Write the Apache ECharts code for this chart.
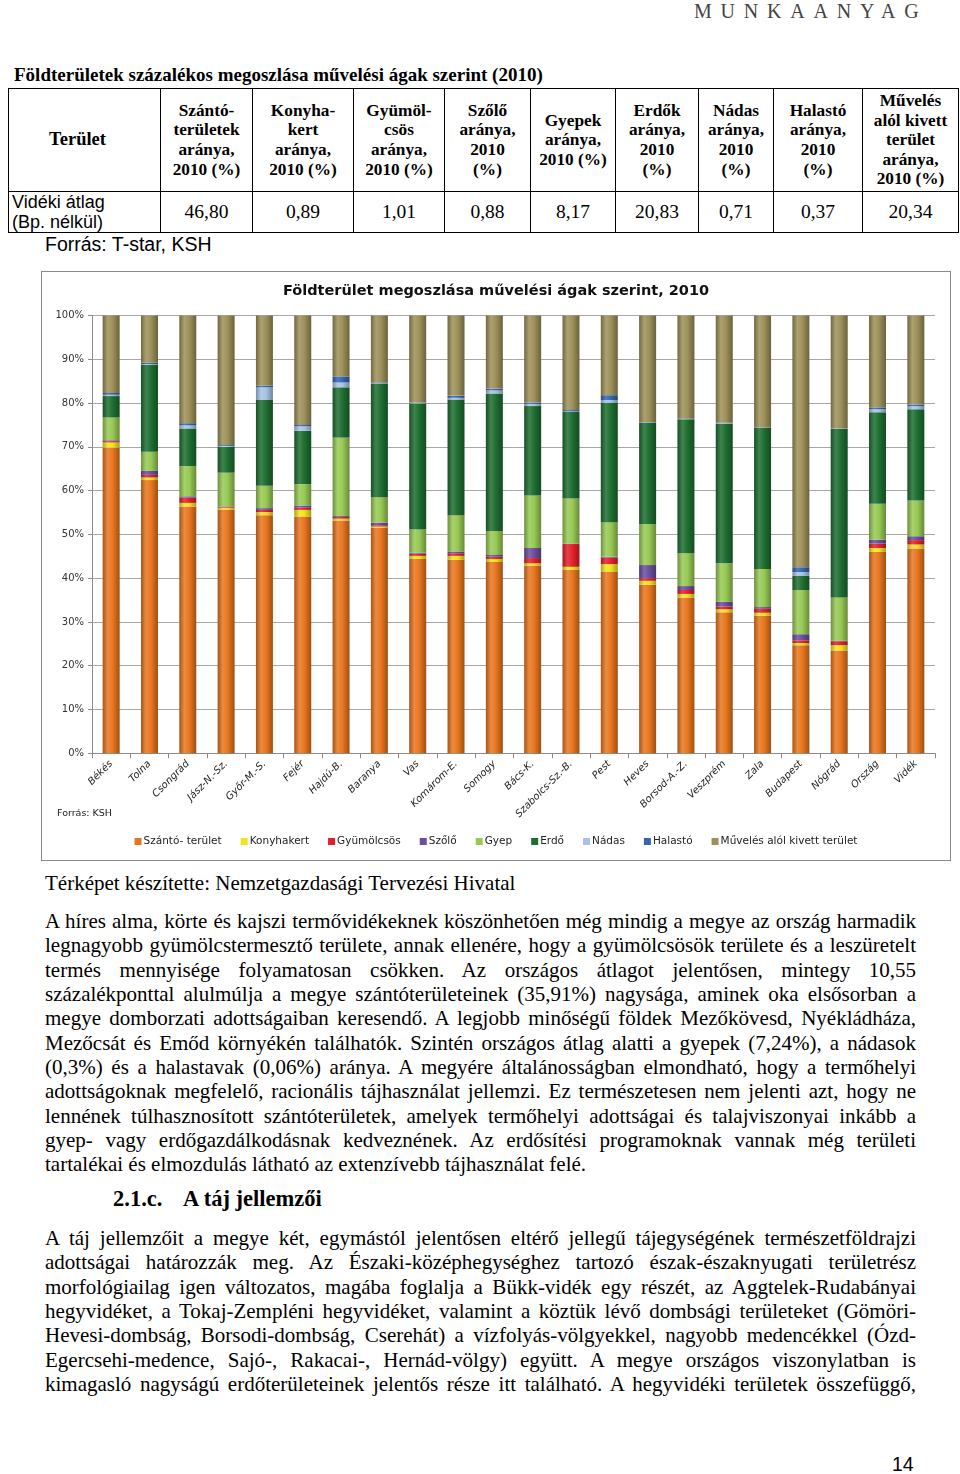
<!DOCTYPE html>
<html><head><meta charset="utf-8">
<script src="https://cdn.jsdelivr.net/npm/echarts@6/dist/echarts.min.js"></script>
<style>
html,body{margin:0;padding:0;background:#fff;}
body{width:960px;height:1474px;position:relative;overflow:hidden;font-family:'Liberation Serif','Times New Roman',serif;color:#000;}
.abs{position:absolute;white-space:nowrap;}
#hdr{left:694px;top:0px;font-size:20px;letter-spacing:8.8px;color:#444;}
#ttitle{left:14px;top:64px;font-size:19px;font-weight:bold;}
table{position:absolute;left:8px;top:88px;border-collapse:collapse;table-layout:fixed;}
td{border:1.5px solid #000;text-align:center;vertical-align:middle;padding:0;}
thead td{font-weight:bold;font-size:17.3px;line-height:19.6px;height:102px;}
tbody td{font-size:19.5px;height:40px;}
td.first{text-align:left;font-family:'Liberation Sans',Arial,sans-serif;font-size:18px;padding-left:3px;line-height:20px;}
#src1{left:45px;top:233px;font-family:'Liberation Sans',Arial,sans-serif;font-size:19.5px;}
#chart{left:41px;top:271px;width:908px;height:588px;border:1px solid #8a8a8a;}
#terk{left:45px;top:871px;font-size:21px;}
.para{position:absolute;left:45px;width:871px;font-size:21px;line-height:24.35px;}
.para div{text-align:justify;text-align-last:justify;white-space:nowrap;}
.para div.last{text-align-last:left;}
#h2a{left:113px;top:1186px;font-size:22.5px;font-weight:bold;}
#h2b{left:183px;top:1186px;font-size:22.5px;font-weight:bold;}
#pg{left:892px;top:1453px;font-family:'Liberation Sans',Arial,sans-serif;font-size:19.5px;}
</style></head><body>
<div id="hdr" class="abs">MUNKAANYAG</div>
<div id="ttitle" class="abs">Földterületek százalékos megoszlása művelési ágak szerint (2010)</div>
<table>
<colgroup><col style="width:152px"><col style="width:92px"><col style="width:101px"><col style="width:91px"><col style="width:86px"><col style="width:85px"><col style="width:83px"><col style="width:75px"><col style="width:89px"><col style="width:96px"></colgroup>
<thead><tr>
<td style="font-size:18.5px;padding-right:14px">Terület</td>
<td>Szántó-<br>területek<br>aránya,<br>2010 (%)</td>
<td>Konyha-<br>kert<br>aránya,<br>2010 (%)</td>
<td>Gyümöl-<br>csös<br>aránya,<br>2010 (%)</td>
<td>Szőlő<br>aránya,<br>2010<br>(%)</td>
<td>Gyepek<br>aránya,<br>2010 (%)</td>
<td>Erdők<br>aránya,<br>2010<br>(%)</td>
<td>Nádas<br>aránya,<br>2010<br>(%)</td>
<td>Halastó<br>aránya,<br>2010<br>(%)</td>
<td>Művelés<br>alól kivett<br>terület<br>aránya,<br>2010 (%)</td>
</tr></thead>
<tbody><tr>
<td class="first">Vidéki átlag<br>(Bp. nélkül)</td>
<td>46,80</td><td>0,89</td><td>1,01</td><td>0,88</td><td>8,17</td><td>20,83</td><td>0,71</td><td>0,37</td><td>20,34</td>
</tr></tbody>
</table>
<div id="src1" class="abs">Forrás: T-star, KSH</div>
<div id="chart" class="abs"></div>
<div id="terk" class="abs">Térképet készítette: Nemzetgazdasági Tervezési Hivatal</div>
<div class="para" style="top:909px">
<div>A híres alma, körte és kajszi termővidékeknek köszönhetően még mindig a megye az ország harmadik</div>
<div>legnagyobb gyümölcstermesztő területe, annak ellenére, hogy a gyümölcsösök területe és a leszüretelt</div>
<div>termés mennyisége folyamatosan csökken. Az országos átlagot jelentősen, mintegy 10,55</div>
<div>százalékponttal alulmúlja a megye szántóterületeinek (35,91%) nagysága, aminek oka elsősorban a</div>
<div>megye domborzati adottságaiban keresendő. A legjobb minőségű földek Mezőkövesd, Nyékládháza,</div>
<div>Mezőcsát és Emőd környékén találhatók. Szintén országos átlag alatti a gyepek (7,24%), a nádasok</div>
<div>(0,3%) és a halastavak (0,06%) aránya. A megyére általánosságban elmondható, hogy a termőhelyi</div>
<div>adottságoknak megfelelő, racionális tájhasználat jellemzi. Ez természetesen nem jelenti azt, hogy ne</div>
<div>lennének túlhasznosított szántóterületek, amelyek termőhelyi adottságai és talajviszonyai inkább a</div>
<div>gyep- vagy erdőgazdálkodásnak kedveznének. Az erdősítési programoknak vannak még területi</div>
<div class="last">tartalékai és elmozdulás látható az extenzívebb tájhasználat felé.</div>
</div>
<div id="h2a" class="abs">2.1.c.</div>
<div id="h2b" class="abs">A táj jellemzői</div>
<div class="para" style="top:1226px">
<div>A táj jellemzőit a megye két, egymástól jelentősen eltérő jellegű tájegységének természetföldrajzi</div>
<div>adottságai határozzák meg. Az Északi-középhegységhez tartozó észak-északnyugati területrész</div>
<div>morfológiailag igen változatos, magába foglalja a Bükk-vidék egy részét, az Aggtelek-Rudabányai</div>
<div>hegyvidéket, a Tokaj-Zempléni hegyvidéket, valamint a köztük lévő dombsági területeket (Gömöri-</div>
<div>Hevesi-dombság, Borsodi-dombság, Cserehát) a vízfolyás-völgyekkel, nagyobb medencékkel (Ózd-</div>
<div>Egercsehi-medence, Sajó-, Rakacai-, Hernád-völgy) együtt. A megye országos viszonylatban is</div>
<div>kimagasló nagyságú erdőterületeinek jelentős része itt található. A hegyvidéki területek összefüggő,</div>
</div>
<div id="pg" class="abs">14</div>
<script>
// ---- data ----
const categories = ['Békés','Tolna','Csongrád','Jász-N.-Sz.','Győr-M.-S.','Fejér','Hajdú-B.','Baranya','Vas','Komárom-E.','Somogy','Bács-K.','Szabolcs-Sz.-B.','Pest','Heves','Borsod-A.-Z.','Veszprém','Zala','Budapest','Nógrád','Ország','Vidék'];
const seriesNames = ['Szántó- terület','Konyhakert','Gyümölcsös','Szőlő','Gyep','Erdő','Nádas','Halastó','Művelés alól kivett terület'];
const szanto     = [69.8,62.4,56.4,55.7,54.4,54.1,53.2,51.5,44.4,44.2,43.7,42.9,41.9,41.5,38.5,35.6,32.2,31.4,24.7,23.5,46.0,46.80];
const konyhakert = [1.2,0.6,0.8,0.4,0.7,1.5,0.4,0.3,0.7,0.9,0.7,0.5,0.7,1.7,0.9,0.8,0.7,0.7,0.5,1.2,0.9,0.89];
const gyumolcsos = [0.3,0.6,1.2,0.2,0.5,0.5,0.4,0.3,0.5,0.6,0.5,1.2,5.2,1.5,0.6,0.9,0.6,0.9,0.6,0.9,1.0,1.01];
const szolo      = [0.2,0.9,0.3,0.1,0.4,0.5,0.2,0.6,0.2,0.4,0.4,2.3,0.1,0.2,3.0,0.9,1.1,0.4,1.4,0.1,0.9,0.88];
const gyep       = [5.2,4.4,6.9,7.7,5.1,4.9,17.9,5.8,5.3,8.3,5.5,12.0,10.3,7.9,9.4,7.5,8.8,8.7,10.1,9.9,8.2,8.17];
const erdo       = [4.9,19.8,8.6,5.9,19.6,12.2,11.5,25.9,28.8,26.4,31.4,20.4,19.8,27.3,23.1,30.6,31.9,32.3,3.3,38.6,20.9,20.83];
const nadas      = [0.3,0.2,0.7,0.2,2.9,1.0,1.1,0.1,0.1,0.4,0.7,0.5,0.1,0.6,0.1,0.1,0.1,0.1,0.8,0.1,0.7,0.71];
const halasto    = [0.4,0.3,0.5,0.2,0.4,0.3,1.4,0.2,0.1,0.5,0.4,0.3,0.3,1.1,0.1,0.1,0.1,0.0,1.1,0.0,0.4,0.37];
const kivett     = [17.7,10.8,24.6,29.6,16.0,25.0,13.9,15.3,19.9,18.3,16.7,19.9,21.6,18.2,24.3,23.5,24.5,25.5,57.5,25.7,21.0,20.34];
const yTickLabels = ['0%','10%','20%','30%','40%','50%','60%','70%','80%','90%','100%'];
// ---- styling ----
const colors = ['#E8761F','#F3E41C','#E4202A','#6B4E9E','#97C954','#1E6E31','#A7C3E6','#3566AE','#9D9059'];
const seriesData = [szanto,konyhakert,gyumolcsos,szolo,gyep,erdo,nadas,halasto,kivett];
function shade(hex, f){
  const n = parseInt(hex.slice(1),16);
  let r=(n>>16)&255,g=(n>>8)&255,b=n&255;
  if(f<0){r=Math.round(r*(1+f));g=Math.round(g*(1+f));b=Math.round(b*(1+f));}
  else{r=Math.round(r+(255-r)*f);g=Math.round(g+(255-g)*f);b=Math.round(b+(255-b)*f);}
  return 'rgb('+r+','+g+','+b+')';
}
const chart = echarts.init(document.getElementById('chart'), null, {renderer:'canvas'});
const FONT = '"DejaVu Sans", sans-serif';
const series = seriesNames.map((name,i)=>({
  name, type:'bar', stack:'total', barWidth:17,
  data: seriesData[i],
  itemStyle:{
    color: new echarts.graphic.LinearGradient(0,0,1,0,[
      {offset:0,color:shade(colors[i],-0.28)},
      {offset:0.3,color:shade(colors[i],0.15)},
      {offset:0.6,color:colors[i]},
      {offset:1,color:shade(colors[i],-0.32)}
    ])
  },
  emphasis:{disabled:true}
}));
chart.setOption({
  animation:false,
  backgroundColor:'#fff',
  title:{text:'Földterület megoszlása művelési ágak szerint, 2010', left:'center', top:7,
    textStyle:{fontFamily:FONT,fontSize:14.5,fontWeight:'bold',color:'#111'}},
  grid:{left:50,right:15,top:43.5,height:437.8,containLabel:false},
  legend:{bottom:8,left:'center',itemWidth:7,itemHeight:7,itemGap:19,icon:'rect',
    textStyle:{fontFamily:FONT,fontSize:10.5,color:'#222',padding:[0,0,0,-3]},
    data: seriesNames.map((n,i)=>({name:n,itemStyle:{color:colors[i]}}))},
  xAxis:{type:'category',data:categories,
    axisLine:{lineStyle:{color:'#8c8c8c'}},
    axisTick:{show:true,length:5,lineStyle:{color:'#8c8c8c'}},
    axisLabel:{rotate:45,fontFamily:FONT,fontSize:10,fontStyle:'italic',color:'#222',margin:9,interval:0}},
  yAxis:{type:'value',min:0,max:100,interval:10,
    axisLine:{show:true,lineStyle:{color:'#8c8c8c'}},
    axisTick:{show:true,length:4,lineStyle:{color:'#8c8c8c'}},
    splitLine:{lineStyle:{color:'#a8a8a8'}},
    axisLabel:{fontFamily:FONT,fontSize:10,color:'#333',margin:8,
      formatter:(v)=>yTickLabels[Math.round(v/10)]}},
  graphic:[{type:'text',left:15,top:537,style:{text:'Forrás: KSH',font:'9.5px '+FONT,fill:'#222'}}],
  series
});
</script>
</body></html>
